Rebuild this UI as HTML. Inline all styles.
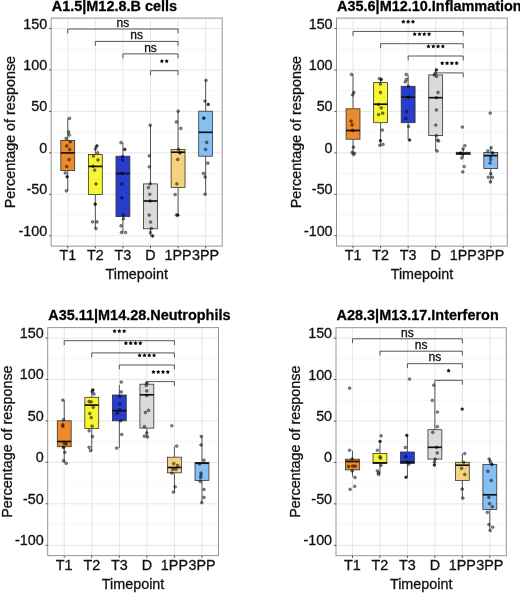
<!DOCTYPE html>
<html><head><meta charset="utf-8"><style>
html,body{margin:0;padding:0;background:#fff;width:520px;height:593px;overflow:hidden;}
svg{display:block;font-family:"Liberation Sans", sans-serif;filter:blur(0.35px);}
text{stroke:#111;stroke-width:0.3px;}
</style></head><body>
<svg width="520" height="593" viewBox="0 0 520 593">
<rect width="520" height="593" fill="#fff"/>
<line x1="51.2" y1="49.22" x2="222.2" y2="49.22" stroke="#EFEFEF" stroke-width="0.5"/>
<line x1="51.2" y1="90.67" x2="222.2" y2="90.67" stroke="#EFEFEF" stroke-width="0.5"/>
<line x1="51.2" y1="132.12" x2="222.2" y2="132.12" stroke="#EFEFEF" stroke-width="0.5"/>
<line x1="51.2" y1="173.57" x2="222.2" y2="173.57" stroke="#EFEFEF" stroke-width="0.5"/>
<line x1="51.2" y1="215.02" x2="222.2" y2="215.02" stroke="#EFEFEF" stroke-width="0.5"/>
<line x1="51.2" y1="28.5" x2="222.2" y2="28.5" stroke="#E3E3E3" stroke-width="0.9"/>
<line x1="51.2" y1="69.95" x2="222.2" y2="69.95" stroke="#E3E3E3" stroke-width="0.9"/>
<line x1="51.2" y1="111.4" x2="222.2" y2="111.4" stroke="#E3E3E3" stroke-width="0.9"/>
<line x1="51.2" y1="152.85" x2="222.2" y2="152.85" stroke="#E3E3E3" stroke-width="0.9"/>
<line x1="51.2" y1="194.3" x2="222.2" y2="194.3" stroke="#E3E3E3" stroke-width="0.9"/>
<line x1="51.2" y1="235.75" x2="222.2" y2="235.75" stroke="#E3E3E3" stroke-width="0.9"/>
<line x1="67.75" y1="18.1" x2="67.75" y2="246.1" stroke="#E3E3E3" stroke-width="0.9"/>
<line x1="95.33" y1="18.1" x2="95.33" y2="246.1" stroke="#E3E3E3" stroke-width="0.9"/>
<line x1="122.91" y1="18.1" x2="122.91" y2="246.1" stroke="#E3E3E3" stroke-width="0.9"/>
<line x1="150.49" y1="18.1" x2="150.49" y2="246.1" stroke="#E3E3E3" stroke-width="0.9"/>
<line x1="178.07" y1="18.1" x2="178.07" y2="246.1" stroke="#E3E3E3" stroke-width="0.9"/>
<line x1="205.65" y1="18.1" x2="205.65" y2="246.1" stroke="#E3E3E3" stroke-width="0.9"/>
<line x1="67.75" y1="118.4" x2="67.75" y2="140.5" stroke="#555555" stroke-width="1"/>
<line x1="67.75" y1="170.4" x2="67.75" y2="191" stroke="#555555" stroke-width="1"/>
<rect x="60.8" y="140.5" width="13.9" height="29.9" fill="#EC8A2C" stroke="#333333" stroke-width="0.8"/>
<line x1="60.8" y1="152.9" x2="74.7" y2="152.9" stroke="#111" stroke-width="1.7"/>
<line x1="95.33" y1="146" x2="95.33" y2="154.5" stroke="#555555" stroke-width="1"/>
<line x1="95.33" y1="194.4" x2="95.33" y2="228.6" stroke="#555555" stroke-width="1"/>
<rect x="88.38" y="154.5" width="13.9" height="39.9" fill="#F8F532" stroke="#333333" stroke-width="0.8"/>
<line x1="88.38" y1="166.4" x2="102.28" y2="166.4" stroke="#111" stroke-width="1.7"/>
<line x1="122.91" y1="142.6" x2="122.91" y2="156.2" stroke="#555555" stroke-width="1"/>
<line x1="122.91" y1="216.6" x2="122.91" y2="232.6" stroke="#555555" stroke-width="1"/>
<rect x="115.96" y="156.2" width="13.9" height="60.4" fill="#283DCC" stroke="#333333" stroke-width="0.8"/>
<line x1="115.96" y1="173.5" x2="129.86" y2="173.5" stroke="#111" stroke-width="1.7"/>
<line x1="150.49" y1="125.2" x2="150.49" y2="183.9" stroke="#555555" stroke-width="1"/>
<line x1="150.49" y1="228.8" x2="150.49" y2="236" stroke="#555555" stroke-width="1"/>
<rect x="143.54" y="183.9" width="13.9" height="44.9" fill="#DADADA" stroke="#333333" stroke-width="0.8"/>
<line x1="143.54" y1="201" x2="157.44" y2="201" stroke="#111" stroke-width="1.7"/>
<line x1="178.07" y1="111.2" x2="178.07" y2="149.4" stroke="#555555" stroke-width="1"/>
<line x1="178.07" y1="187.4" x2="178.07" y2="215.2" stroke="#555555" stroke-width="1"/>
<rect x="171.12" y="149.4" width="13.9" height="38" fill="#F6D27E" stroke="#333333" stroke-width="0.8"/>
<line x1="171.12" y1="152.2" x2="185.02" y2="152.2" stroke="#111" stroke-width="1.7"/>
<line x1="205.65" y1="80.3" x2="205.65" y2="111.2" stroke="#555555" stroke-width="1"/>
<line x1="205.65" y1="156.2" x2="205.65" y2="194.3" stroke="#555555" stroke-width="1"/>
<rect x="198.7" y="111.2" width="13.9" height="45" fill="#88BFF2" stroke="#333333" stroke-width="0.8"/>
<line x1="198.7" y1="132.3" x2="212.6" y2="132.3" stroke="#111" stroke-width="1.7"/>
<circle cx="69.5" cy="118.4" r="1.4" fill="rgba(0,0,0,0.45)" stroke="rgba(0,0,0,0.7)" stroke-width="0.55"/>
<circle cx="68.7" cy="132" r="1.4" fill="rgba(0,0,0,0.45)" stroke="rgba(0,0,0,0.7)" stroke-width="0.55"/>
<circle cx="69.4" cy="135" r="1.4" fill="rgba(0,0,0,0.45)" stroke="rgba(0,0,0,0.7)" stroke-width="0.55"/>
<circle cx="66.1" cy="138.5" r="1.4" fill="rgba(0,0,0,0.45)" stroke="rgba(0,0,0,0.7)" stroke-width="0.55"/>
<circle cx="70.2" cy="141.9" r="1.4" fill="rgba(0,0,0,0.45)" stroke="rgba(0,0,0,0.7)" stroke-width="0.55"/>
<circle cx="66.8" cy="146" r="1.4" fill="rgba(0,0,0,0.45)" stroke="rgba(0,0,0,0.7)" stroke-width="0.55"/>
<circle cx="69.7" cy="149.5" r="1.4" fill="rgba(0,0,0,0.45)" stroke="rgba(0,0,0,0.7)" stroke-width="0.55"/>
<circle cx="69.1" cy="159.6" r="1.4" fill="rgba(0,0,0,0.45)" stroke="rgba(0,0,0,0.7)" stroke-width="0.55"/>
<circle cx="66.7" cy="166.6" r="1.4" fill="rgba(0,0,0,0.45)" stroke="rgba(0,0,0,0.7)" stroke-width="0.55"/>
<circle cx="65.3" cy="173" r="1.4" fill="rgba(0,0,0,0.45)" stroke="rgba(0,0,0,0.7)" stroke-width="0.55"/>
<circle cx="67.1" cy="176.8" r="1.4" fill="rgba(0,0,0,0.8)" stroke="rgba(0,0,0,0.8)" stroke-width="0.5"/>
<circle cx="66.4" cy="190.9" r="1.4" fill="rgba(0,0,0,0.45)" stroke="rgba(0,0,0,0.7)" stroke-width="0.55"/>
<circle cx="96.9" cy="146" r="1.4" fill="rgba(0,0,0,0.8)" stroke="rgba(0,0,0,0.8)" stroke-width="0.5"/>
<circle cx="95.5" cy="148.9" r="1.4" fill="rgba(0,0,0,0.45)" stroke="rgba(0,0,0,0.7)" stroke-width="0.55"/>
<circle cx="97.7" cy="152.8" r="1.4" fill="rgba(0,0,0,0.45)" stroke="rgba(0,0,0,0.7)" stroke-width="0.55"/>
<circle cx="93.5" cy="156.1" r="1.4" fill="rgba(0,0,0,0.45)" stroke="rgba(0,0,0,0.7)" stroke-width="0.55"/>
<circle cx="98" cy="160" r="1.4" fill="rgba(0,0,0,0.45)" stroke="rgba(0,0,0,0.7)" stroke-width="0.55"/>
<circle cx="93" cy="166.3" r="1.4" fill="rgba(0,0,0,0.45)" stroke="rgba(0,0,0,0.7)" stroke-width="0.55"/>
<circle cx="94.7" cy="170.1" r="1.4" fill="rgba(0,0,0,0.45)" stroke="rgba(0,0,0,0.7)" stroke-width="0.55"/>
<circle cx="96" cy="184" r="1.4" fill="rgba(0,0,0,0.45)" stroke="rgba(0,0,0,0.7)" stroke-width="0.55"/>
<circle cx="95.2" cy="204.2" r="1.4" fill="rgba(0,0,0,0.8)" stroke="rgba(0,0,0,0.8)" stroke-width="0.5"/>
<circle cx="92.6" cy="221.9" r="1.4" fill="rgba(0,0,0,0.45)" stroke="rgba(0,0,0,0.7)" stroke-width="0.55"/>
<circle cx="96.9" cy="221.9" r="1.4" fill="rgba(0,0,0,0.45)" stroke="rgba(0,0,0,0.7)" stroke-width="0.55"/>
<circle cx="96" cy="228.6" r="1.4" fill="rgba(0,0,0,0.45)" stroke="rgba(0,0,0,0.7)" stroke-width="0.55"/>
<circle cx="121" cy="142.6" r="1.4" fill="rgba(0,0,0,0.45)" stroke="rgba(0,0,0,0.7)" stroke-width="0.55"/>
<circle cx="124.8" cy="149.4" r="1.4" fill="rgba(0,0,0,0.8)" stroke="rgba(0,0,0,0.8)" stroke-width="0.5"/>
<circle cx="122.6" cy="156.6" r="1.4" fill="rgba(0,0,0,0.45)" stroke="rgba(0,0,0,0.7)" stroke-width="0.55"/>
<circle cx="122.6" cy="160" r="1.4" fill="rgba(0,0,0,0.45)" stroke="rgba(0,0,0,0.7)" stroke-width="0.55"/>
<circle cx="122.1" cy="173.5" r="1.4" fill="rgba(0,0,0,0.45)" stroke="rgba(0,0,0,0.7)" stroke-width="0.55"/>
<circle cx="121.8" cy="184" r="1.4" fill="rgba(0,0,0,0.45)" stroke="rgba(0,0,0,0.7)" stroke-width="0.55"/>
<circle cx="121.8" cy="197.8" r="1.4" fill="rgba(0,0,0,0.45)" stroke="rgba(0,0,0,0.7)" stroke-width="0.55"/>
<circle cx="123.5" cy="215.2" r="1.4" fill="rgba(0,0,0,0.45)" stroke="rgba(0,0,0,0.7)" stroke-width="0.55"/>
<circle cx="123.5" cy="218.8" r="1.4" fill="rgba(0,0,0,0.45)" stroke="rgba(0,0,0,0.7)" stroke-width="0.55"/>
<circle cx="121" cy="225.8" r="1.4" fill="rgba(0,0,0,0.45)" stroke="rgba(0,0,0,0.7)" stroke-width="0.55"/>
<circle cx="121.5" cy="232.5" r="1.4" fill="rgba(0,0,0,0.45)" stroke="rgba(0,0,0,0.7)" stroke-width="0.55"/>
<circle cx="125.6" cy="232.5" r="1.4" fill="rgba(0,0,0,0.45)" stroke="rgba(0,0,0,0.7)" stroke-width="0.55"/>
<circle cx="150.2" cy="125.2" r="1.4" fill="rgba(0,0,0,0.45)" stroke="rgba(0,0,0,0.7)" stroke-width="0.55"/>
<circle cx="149.3" cy="155.9" r="1.4" fill="rgba(0,0,0,0.45)" stroke="rgba(0,0,0,0.7)" stroke-width="0.55"/>
<circle cx="149.3" cy="166.8" r="1.4" fill="rgba(0,0,0,0.45)" stroke="rgba(0,0,0,0.7)" stroke-width="0.55"/>
<circle cx="150.2" cy="183.9" r="1.4" fill="rgba(0,0,0,0.45)" stroke="rgba(0,0,0,0.7)" stroke-width="0.55"/>
<circle cx="148.5" cy="187.6" r="1.4" fill="rgba(0,0,0,0.45)" stroke="rgba(0,0,0,0.7)" stroke-width="0.55"/>
<circle cx="149.8" cy="194.3" r="1.4" fill="rgba(0,0,0,0.45)" stroke="rgba(0,0,0,0.7)" stroke-width="0.55"/>
<circle cx="150.2" cy="201" r="1.4" fill="rgba(0,0,0,0.45)" stroke="rgba(0,0,0,0.7)" stroke-width="0.55"/>
<circle cx="149.2" cy="215.1" r="1.4" fill="rgba(0,0,0,0.45)" stroke="rgba(0,0,0,0.7)" stroke-width="0.55"/>
<circle cx="150.6" cy="222.1" r="1.4" fill="rgba(0,0,0,0.45)" stroke="rgba(0,0,0,0.7)" stroke-width="0.55"/>
<circle cx="151.3" cy="228.4" r="1.4" fill="rgba(0,0,0,0.45)" stroke="rgba(0,0,0,0.7)" stroke-width="0.55"/>
<circle cx="150.4" cy="232.7" r="1.4" fill="rgba(0,0,0,0.45)" stroke="rgba(0,0,0,0.7)" stroke-width="0.55"/>
<circle cx="152.6" cy="236" r="1.4" fill="rgba(0,0,0,0.8)" stroke="rgba(0,0,0,0.8)" stroke-width="0.5"/>
<circle cx="178.2" cy="111.2" r="1.4" fill="rgba(0,0,0,0.45)" stroke="rgba(0,0,0,0.7)" stroke-width="0.55"/>
<circle cx="176.4" cy="122" r="1.4" fill="rgba(0,0,0,0.45)" stroke="rgba(0,0,0,0.7)" stroke-width="0.55"/>
<circle cx="180.8" cy="128.5" r="1.4" fill="rgba(0,0,0,0.45)" stroke="rgba(0,0,0,0.7)" stroke-width="0.55"/>
<circle cx="178.6" cy="149.4" r="1.4" fill="rgba(0,0,0,0.45)" stroke="rgba(0,0,0,0.7)" stroke-width="0.55"/>
<circle cx="179.9" cy="152.9" r="1.4" fill="rgba(0,0,0,0.8)" stroke="rgba(0,0,0,0.8)" stroke-width="0.5"/>
<circle cx="177.7" cy="159.5" r="1.4" fill="rgba(0,0,0,0.45)" stroke="rgba(0,0,0,0.7)" stroke-width="0.55"/>
<circle cx="176.9" cy="183.9" r="1.4" fill="rgba(0,0,0,0.45)" stroke="rgba(0,0,0,0.7)" stroke-width="0.55"/>
<circle cx="175.1" cy="194.6" r="1.4" fill="rgba(0,0,0,0.45)" stroke="rgba(0,0,0,0.7)" stroke-width="0.55"/>
<circle cx="177.8" cy="215.2" r="1.4" fill="rgba(0,0,0,0.8)" stroke="rgba(0,0,0,0.8)" stroke-width="0.5"/>
<circle cx="176.5" cy="215" r="1.4" fill="rgba(0,0,0,0.45)" stroke="rgba(0,0,0,0.7)" stroke-width="0.55"/>
<circle cx="206" cy="80.3" r="1.4" fill="rgba(0,0,0,0.45)" stroke="rgba(0,0,0,0.7)" stroke-width="0.55"/>
<circle cx="204.9" cy="101.1" r="1.4" fill="rgba(0,0,0,0.45)" stroke="rgba(0,0,0,0.7)" stroke-width="0.55"/>
<circle cx="208.2" cy="104.4" r="1.4" fill="rgba(0,0,0,0.8)" stroke="rgba(0,0,0,0.8)" stroke-width="0.5"/>
<circle cx="203.8" cy="118.2" r="1.4" fill="rgba(0,0,0,0.8)" stroke="rgba(0,0,0,0.8)" stroke-width="0.5"/>
<circle cx="206.7" cy="142.4" r="1.4" fill="rgba(0,0,0,0.45)" stroke="rgba(0,0,0,0.7)" stroke-width="0.55"/>
<circle cx="205.6" cy="149.4" r="1.4" fill="rgba(0,0,0,0.45)" stroke="rgba(0,0,0,0.7)" stroke-width="0.55"/>
<circle cx="207.8" cy="163.2" r="1.4" fill="rgba(0,0,0,0.45)" stroke="rgba(0,0,0,0.7)" stroke-width="0.55"/>
<circle cx="203.4" cy="173.5" r="1.4" fill="rgba(0,0,0,0.45)" stroke="rgba(0,0,0,0.7)" stroke-width="0.55"/>
<circle cx="205.1" cy="177" r="1.4" fill="rgba(0,0,0,0.45)" stroke="rgba(0,0,0,0.7)" stroke-width="0.55"/>
<circle cx="205.1" cy="194.3" r="1.4" fill="rgba(0,0,0,0.45)" stroke="rgba(0,0,0,0.7)" stroke-width="0.55"/>
<path d="M67.75,33.4V29H178.07V33.4" fill="none" stroke="#555555" stroke-width="1"/>
<text x="122.91" y="26.7" font-size="12" text-anchor="middle" fill="#111111">ns</text>
<path d="M95.33,45.8V41.4H178.07V45.8" fill="none" stroke="#555555" stroke-width="1"/>
<text x="136.7" y="39.1" font-size="12" text-anchor="middle" fill="#111111">ns</text>
<path d="M122.91,58.3V53.9H178.07V58.3" fill="none" stroke="#555555" stroke-width="1"/>
<text x="150.49" y="51.6" font-size="12" text-anchor="middle" fill="#111111">ns</text>
<path d="M150.49,75.1V70.7H178.07V75.1" fill="none" stroke="#555555" stroke-width="1"/>
<polygon points="161.88,58.9 162.59,60.13 163.97,60.42 163.02,61.47 163.17,62.88 161.88,62.3 160.59,62.88 160.74,61.47 159.79,60.42 161.18,60.13" fill="#000"/>
<polygon points="166.68,58.9 167.39,60.13 168.77,60.42 167.82,61.47 167.97,62.88 166.68,62.3 165.39,62.88 165.54,61.47 164.59,60.42 165.98,60.13" fill="#000"/>
<rect x="51.2" y="18.1" width="171" height="228" fill="none" stroke="#959595" stroke-width="1"/>
<line x1="49" y1="28.5" x2="51.2" y2="28.5" stroke="#555555" stroke-width="1"/>
<text x="47.3" y="28.5" font-size="14.35" text-anchor="end" fill="#111111">150</text>
<line x1="49" y1="69.95" x2="51.2" y2="69.95" stroke="#555555" stroke-width="1"/>
<text x="47.3" y="69.95" font-size="14.35" text-anchor="end" fill="#111111">100</text>
<line x1="49" y1="111.4" x2="51.2" y2="111.4" stroke="#555555" stroke-width="1"/>
<text x="47.3" y="111.4" font-size="14.35" text-anchor="end" fill="#111111">50</text>
<line x1="49" y1="152.85" x2="51.2" y2="152.85" stroke="#555555" stroke-width="1"/>
<text x="47.3" y="152.85" font-size="14.35" text-anchor="end" fill="#111111">0</text>
<line x1="49" y1="194.3" x2="51.2" y2="194.3" stroke="#555555" stroke-width="1"/>
<text x="47.3" y="194.3" font-size="14.35" text-anchor="end" fill="#111111">-50</text>
<line x1="49" y1="235.75" x2="51.2" y2="235.75" stroke="#555555" stroke-width="1"/>
<text x="47.3" y="235.75" font-size="14.35" text-anchor="end" fill="#111111">-100</text>
<line x1="67.75" y1="246.1" x2="67.75" y2="248.3" stroke="#555555" stroke-width="1"/>
<text x="67.75" y="260.1" font-size="14.35" text-anchor="middle" fill="#111111">T1</text>
<line x1="95.33" y1="246.1" x2="95.33" y2="248.3" stroke="#555555" stroke-width="1"/>
<text x="95.33" y="260.1" font-size="14.35" text-anchor="middle" fill="#111111">T2</text>
<line x1="122.91" y1="246.1" x2="122.91" y2="248.3" stroke="#555555" stroke-width="1"/>
<text x="122.91" y="260.1" font-size="14.35" text-anchor="middle" fill="#111111">T3</text>
<line x1="150.49" y1="246.1" x2="150.49" y2="248.3" stroke="#555555" stroke-width="1"/>
<text x="150.49" y="260.1" font-size="14.35" text-anchor="middle" fill="#111111">D</text>
<line x1="178.07" y1="246.1" x2="178.07" y2="248.3" stroke="#555555" stroke-width="1"/>
<text x="178.07" y="260.1" font-size="14.35" text-anchor="middle" fill="#111111">1PP</text>
<line x1="205.65" y1="246.1" x2="205.65" y2="248.3" stroke="#555555" stroke-width="1"/>
<text x="205.65" y="260.1" font-size="14.35" text-anchor="middle" fill="#111111">3PP</text>
<text x="136.7" y="279.3" font-size="14.35" text-anchor="middle" fill="#111111">Timepoint</text>
<text transform="translate(15.2,132.1) rotate(-90)" font-size="14.35" text-anchor="middle" fill="#111111">Percentage of response</text>
<text x="51.8" y="10.7" font-size="14.45" font-weight="bold" fill="#000">A1.5|M12.8.B cells</text>
<line x1="336.5" y1="49.22" x2="507.3" y2="49.22" stroke="#EFEFEF" stroke-width="0.5"/>
<line x1="336.5" y1="90.67" x2="507.3" y2="90.67" stroke="#EFEFEF" stroke-width="0.5"/>
<line x1="336.5" y1="132.12" x2="507.3" y2="132.12" stroke="#EFEFEF" stroke-width="0.5"/>
<line x1="336.5" y1="173.57" x2="507.3" y2="173.57" stroke="#EFEFEF" stroke-width="0.5"/>
<line x1="336.5" y1="215.02" x2="507.3" y2="215.02" stroke="#EFEFEF" stroke-width="0.5"/>
<line x1="336.5" y1="28.5" x2="507.3" y2="28.5" stroke="#E3E3E3" stroke-width="0.9"/>
<line x1="336.5" y1="69.95" x2="507.3" y2="69.95" stroke="#E3E3E3" stroke-width="0.9"/>
<line x1="336.5" y1="111.4" x2="507.3" y2="111.4" stroke="#E3E3E3" stroke-width="0.9"/>
<line x1="336.5" y1="152.85" x2="507.3" y2="152.85" stroke="#E3E3E3" stroke-width="0.9"/>
<line x1="336.5" y1="194.3" x2="507.3" y2="194.3" stroke="#E3E3E3" stroke-width="0.9"/>
<line x1="336.5" y1="235.75" x2="507.3" y2="235.75" stroke="#E3E3E3" stroke-width="0.9"/>
<line x1="353.03" y1="18.1" x2="353.03" y2="246.1" stroke="#E3E3E3" stroke-width="0.9"/>
<line x1="380.58" y1="18.1" x2="380.58" y2="246.1" stroke="#E3E3E3" stroke-width="0.9"/>
<line x1="408.13" y1="18.1" x2="408.13" y2="246.1" stroke="#E3E3E3" stroke-width="0.9"/>
<line x1="435.67" y1="18.1" x2="435.67" y2="246.1" stroke="#E3E3E3" stroke-width="0.9"/>
<line x1="463.22" y1="18.1" x2="463.22" y2="246.1" stroke="#E3E3E3" stroke-width="0.9"/>
<line x1="490.77" y1="18.1" x2="490.77" y2="246.1" stroke="#E3E3E3" stroke-width="0.9"/>
<line x1="353.03" y1="74.5" x2="353.03" y2="108.8" stroke="#555555" stroke-width="1"/>
<line x1="353.03" y1="139.2" x2="353.03" y2="153.7" stroke="#555555" stroke-width="1"/>
<rect x="346.08" y="108.8" width="13.9" height="30.4" fill="#EC8A2C" stroke="#333333" stroke-width="0.8"/>
<line x1="346.08" y1="130.5" x2="359.98" y2="130.5" stroke="#111" stroke-width="1.7"/>
<line x1="380.58" y1="78.6" x2="380.58" y2="82.6" stroke="#555555" stroke-width="1"/>
<line x1="380.58" y1="122.7" x2="380.58" y2="145.3" stroke="#555555" stroke-width="1"/>
<rect x="373.63" y="82.6" width="13.9" height="40.1" fill="#F8F532" stroke="#333333" stroke-width="0.8"/>
<line x1="373.63" y1="104.2" x2="387.53" y2="104.2" stroke="#111" stroke-width="1.7"/>
<line x1="408.13" y1="74.5" x2="408.13" y2="86.3" stroke="#555555" stroke-width="1"/>
<line x1="408.13" y1="122.7" x2="408.13" y2="140.1" stroke="#555555" stroke-width="1"/>
<rect x="401.18" y="86.3" width="13.9" height="36.4" fill="#283DCC" stroke="#333333" stroke-width="0.8"/>
<line x1="401.18" y1="97.1" x2="415.08" y2="97.1" stroke="#111" stroke-width="1.7"/>
<line x1="435.67" y1="69.9" x2="435.67" y2="74.9" stroke="#555555" stroke-width="1"/>
<line x1="435.67" y1="135.6" x2="435.67" y2="151" stroke="#555555" stroke-width="1"/>
<rect x="428.72" y="74.9" width="13.9" height="60.7" fill="#DADADA" stroke="#333333" stroke-width="0.8"/>
<line x1="428.72" y1="97.7" x2="442.62" y2="97.7" stroke="#111" stroke-width="1.7"/>
<line x1="463.22" y1="148.9" x2="463.22" y2="152.3" stroke="#555555" stroke-width="1"/>
<line x1="463.22" y1="154.6" x2="463.22" y2="158" stroke="#555555" stroke-width="1"/>
<rect x="456.27" y="152.3" width="13.9" height="2.3" fill="#F6D27E" stroke="#333333" stroke-width="0.8"/>
<line x1="456.27" y1="153.3" x2="470.17" y2="153.3" stroke="#111" stroke-width="1.7"/>
<line x1="490.77" y1="147.7" x2="490.77" y2="152.5" stroke="#555555" stroke-width="1"/>
<line x1="490.77" y1="168.5" x2="490.77" y2="182" stroke="#555555" stroke-width="1"/>
<rect x="483.82" y="152.5" width="13.9" height="16" fill="#88BFF2" stroke="#333333" stroke-width="0.8"/>
<line x1="483.82" y1="155.6" x2="497.72" y2="155.6" stroke="#111" stroke-width="1.7"/>
<circle cx="351.5" cy="74.5" r="1.4" fill="rgba(0,0,0,0.45)" stroke="rgba(0,0,0,0.7)" stroke-width="0.55"/>
<circle cx="353.9" cy="92.5" r="1.4" fill="rgba(0,0,0,0.45)" stroke="rgba(0,0,0,0.7)" stroke-width="0.55"/>
<circle cx="352.6" cy="94.9" r="1.4" fill="rgba(0,0,0,0.45)" stroke="rgba(0,0,0,0.7)" stroke-width="0.55"/>
<circle cx="351.1" cy="121.2" r="1.4" fill="rgba(0,0,0,0.45)" stroke="rgba(0,0,0,0.7)" stroke-width="0.55"/>
<circle cx="352.1" cy="124.9" r="1.4" fill="rgba(0,0,0,0.45)" stroke="rgba(0,0,0,0.7)" stroke-width="0.55"/>
<circle cx="352.6" cy="130.5" r="1.4" fill="rgba(0,0,0,0.8)" stroke="rgba(0,0,0,0.8)" stroke-width="0.5"/>
<circle cx="353.4" cy="147.2" r="1.4" fill="rgba(0,0,0,0.45)" stroke="rgba(0,0,0,0.7)" stroke-width="0.55"/>
<circle cx="352.1" cy="152.4" r="1.4" fill="rgba(0,0,0,0.45)" stroke="rgba(0,0,0,0.7)" stroke-width="0.55"/>
<circle cx="354.5" cy="153.3" r="1.4" fill="rgba(0,0,0,0.45)" stroke="rgba(0,0,0,0.7)" stroke-width="0.55"/>
<circle cx="353.4" cy="154.6" r="1.4" fill="rgba(0,0,0,0.45)" stroke="rgba(0,0,0,0.7)" stroke-width="0.55"/>
<circle cx="379.3" cy="78.6" r="1.4" fill="rgba(0,0,0,0.45)" stroke="rgba(0,0,0,0.7)" stroke-width="0.55"/>
<circle cx="381.2" cy="79.5" r="1.4" fill="rgba(0,0,0,0.8)" stroke="rgba(0,0,0,0.8)" stroke-width="0.5"/>
<circle cx="380.4" cy="84.1" r="1.4" fill="rgba(0,0,0,0.45)" stroke="rgba(0,0,0,0.7)" stroke-width="0.55"/>
<circle cx="380.4" cy="92.5" r="1.4" fill="rgba(0,0,0,0.45)" stroke="rgba(0,0,0,0.7)" stroke-width="0.55"/>
<circle cx="378.4" cy="104.5" r="1.4" fill="rgba(0,0,0,0.45)" stroke="rgba(0,0,0,0.7)" stroke-width="0.55"/>
<circle cx="381.2" cy="107.9" r="1.4" fill="rgba(0,0,0,0.45)" stroke="rgba(0,0,0,0.7)" stroke-width="0.55"/>
<circle cx="382.7" cy="113.2" r="1.4" fill="rgba(0,0,0,0.45)" stroke="rgba(0,0,0,0.7)" stroke-width="0.55"/>
<circle cx="378.6" cy="114.7" r="1.4" fill="rgba(0,0,0,0.45)" stroke="rgba(0,0,0,0.7)" stroke-width="0.55"/>
<circle cx="382.3" cy="130.1" r="1.4" fill="rgba(0,0,0,0.45)" stroke="rgba(0,0,0,0.7)" stroke-width="0.55"/>
<circle cx="380.4" cy="140.7" r="1.4" fill="rgba(0,0,0,0.8)" stroke="rgba(0,0,0,0.8)" stroke-width="0.5"/>
<circle cx="379.9" cy="145.3" r="1.4" fill="rgba(0,0,0,0.45)" stroke="rgba(0,0,0,0.7)" stroke-width="0.55"/>
<circle cx="383" cy="144.4" r="1.4" fill="rgba(0,0,0,0.45)" stroke="rgba(0,0,0,0.7)" stroke-width="0.55"/>
<circle cx="406.2" cy="74.5" r="1.4" fill="rgba(0,0,0,0.45)" stroke="rgba(0,0,0,0.7)" stroke-width="0.55"/>
<circle cx="406.4" cy="79.5" r="1.4" fill="rgba(0,0,0,0.45)" stroke="rgba(0,0,0,0.7)" stroke-width="0.55"/>
<circle cx="405.3" cy="81.9" r="1.4" fill="rgba(0,0,0,0.45)" stroke="rgba(0,0,0,0.7)" stroke-width="0.55"/>
<circle cx="408.3" cy="86.3" r="1.4" fill="rgba(0,0,0,0.45)" stroke="rgba(0,0,0,0.7)" stroke-width="0.55"/>
<circle cx="408.3" cy="97.1" r="1.4" fill="rgba(0,0,0,0.8)" stroke="rgba(0,0,0,0.8)" stroke-width="0.5"/>
<circle cx="406.8" cy="111.6" r="1.4" fill="rgba(0,0,0,0.45)" stroke="rgba(0,0,0,0.7)" stroke-width="0.55"/>
<circle cx="405.9" cy="118.4" r="1.4" fill="rgba(0,0,0,0.45)" stroke="rgba(0,0,0,0.7)" stroke-width="0.55"/>
<circle cx="408.6" cy="126.4" r="1.4" fill="rgba(0,0,0,0.45)" stroke="rgba(0,0,0,0.7)" stroke-width="0.55"/>
<circle cx="409.6" cy="140.1" r="1.4" fill="rgba(0,0,0,0.8)" stroke="rgba(0,0,0,0.8)" stroke-width="0.5"/>
<circle cx="436.4" cy="69.9" r="1.4" fill="rgba(0,0,0,0.8)" stroke="rgba(0,0,0,0.8)" stroke-width="0.5"/>
<circle cx="435.4" cy="73.2" r="1.4" fill="rgba(0,0,0,0.45)" stroke="rgba(0,0,0,0.7)" stroke-width="0.55"/>
<circle cx="434.3" cy="74.9" r="1.4" fill="rgba(0,0,0,0.45)" stroke="rgba(0,0,0,0.7)" stroke-width="0.55"/>
<circle cx="436.4" cy="76.4" r="1.4" fill="rgba(0,0,0,0.45)" stroke="rgba(0,0,0,0.7)" stroke-width="0.55"/>
<circle cx="438" cy="92.5" r="1.4" fill="rgba(0,0,0,0.45)" stroke="rgba(0,0,0,0.7)" stroke-width="0.55"/>
<circle cx="436.4" cy="97.7" r="1.4" fill="rgba(0,0,0,0.45)" stroke="rgba(0,0,0,0.7)" stroke-width="0.55"/>
<circle cx="436.4" cy="110" r="1.4" fill="rgba(0,0,0,0.45)" stroke="rgba(0,0,0,0.7)" stroke-width="0.55"/>
<circle cx="435.8" cy="125.1" r="1.4" fill="rgba(0,0,0,0.45)" stroke="rgba(0,0,0,0.7)" stroke-width="0.55"/>
<circle cx="436.4" cy="135.7" r="1.4" fill="rgba(0,0,0,0.45)" stroke="rgba(0,0,0,0.7)" stroke-width="0.55"/>
<circle cx="437.5" cy="140" r="1.4" fill="rgba(0,0,0,0.45)" stroke="rgba(0,0,0,0.7)" stroke-width="0.55"/>
<circle cx="438.6" cy="141.1" r="1.4" fill="rgba(0,0,0,0.45)" stroke="rgba(0,0,0,0.7)" stroke-width="0.55"/>
<circle cx="437.1" cy="151" r="1.4" fill="rgba(0,0,0,0.45)" stroke="rgba(0,0,0,0.7)" stroke-width="0.55"/>
<circle cx="462.4" cy="127.1" r="1.4" fill="rgba(0,0,0,0.45)" stroke="rgba(0,0,0,0.7)" stroke-width="0.55"/>
<circle cx="464.8" cy="145.7" r="1.4" fill="rgba(0,0,0,0.45)" stroke="rgba(0,0,0,0.7)" stroke-width="0.55"/>
<circle cx="463" cy="148.9" r="1.4" fill="rgba(0,0,0,0.45)" stroke="rgba(0,0,0,0.7)" stroke-width="0.55"/>
<circle cx="460.6" cy="153.2" r="1.4" fill="rgba(0,0,0,0.8)" stroke="rgba(0,0,0,0.8)" stroke-width="0.5"/>
<circle cx="462.8" cy="154.3" r="1.4" fill="rgba(0,0,0,0.45)" stroke="rgba(0,0,0,0.7)" stroke-width="0.55"/>
<circle cx="461.8" cy="158" r="1.4" fill="rgba(0,0,0,0.45)" stroke="rgba(0,0,0,0.7)" stroke-width="0.55"/>
<circle cx="464.2" cy="166.6" r="1.4" fill="rgba(0,0,0,0.45)" stroke="rgba(0,0,0,0.7)" stroke-width="0.55"/>
<circle cx="462.8" cy="171.9" r="1.4" fill="rgba(0,0,0,0.45)" stroke="rgba(0,0,0,0.7)" stroke-width="0.55"/>
<circle cx="490.2" cy="113.1" r="1.4" fill="rgba(0,0,0,0.45)" stroke="rgba(0,0,0,0.7)" stroke-width="0.55"/>
<circle cx="491.1" cy="147.7" r="1.4" fill="rgba(0,0,0,0.45)" stroke="rgba(0,0,0,0.7)" stroke-width="0.55"/>
<circle cx="487.8" cy="150.9" r="1.4" fill="rgba(0,0,0,0.45)" stroke="rgba(0,0,0,0.7)" stroke-width="0.55"/>
<circle cx="492.5" cy="152.8" r="1.4" fill="rgba(0,0,0,0.8)" stroke="rgba(0,0,0,0.8)" stroke-width="0.5"/>
<circle cx="490.7" cy="156.6" r="1.4" fill="rgba(0,0,0,0.45)" stroke="rgba(0,0,0,0.7)" stroke-width="0.55"/>
<circle cx="490.7" cy="159.6" r="1.4" fill="rgba(0,0,0,0.45)" stroke="rgba(0,0,0,0.7)" stroke-width="0.55"/>
<circle cx="490.1" cy="163.1" r="1.4" fill="rgba(0,0,0,0.45)" stroke="rgba(0,0,0,0.7)" stroke-width="0.55"/>
<circle cx="490.7" cy="173.7" r="1.4" fill="rgba(0,0,0,0.45)" stroke="rgba(0,0,0,0.7)" stroke-width="0.55"/>
<circle cx="488.4" cy="177.3" r="1.4" fill="rgba(0,0,0,0.45)" stroke="rgba(0,0,0,0.7)" stroke-width="0.55"/>
<circle cx="492.3" cy="177.3" r="1.4" fill="rgba(0,0,0,0.45)" stroke="rgba(0,0,0,0.7)" stroke-width="0.55"/>
<circle cx="490.4" cy="182" r="1.4" fill="rgba(0,0,0,0.45)" stroke="rgba(0,0,0,0.7)" stroke-width="0.55"/>
<path d="M353.03,35.8V31.4H463.22V35.8" fill="none" stroke="#555555" stroke-width="1"/>
<polygon points="403.33,19.6 404.03,20.83 405.42,21.12 404.47,22.17 404.62,23.58 403.33,23 402.03,23.58 402.18,22.17 401.23,21.12 402.62,20.83" fill="#000"/>
<polygon points="408.13,19.6 408.83,20.83 410.22,21.12 409.27,22.17 409.42,23.58 408.13,23 406.83,23.58 406.98,22.17 406.03,21.12 407.42,20.83" fill="#000"/>
<polygon points="412.93,19.6 413.63,20.83 415.02,21.12 414.07,22.17 414.22,23.58 412.93,23 411.63,23.58 411.78,22.17 410.83,21.12 412.22,20.83" fill="#000"/>
<path d="M380.58,48.1V43.7H463.22V48.1" fill="none" stroke="#555555" stroke-width="1"/>
<polygon points="414.7,31.9 415.41,33.13 416.79,33.42 415.84,34.47 415.99,35.88 414.7,35.3 413.41,35.88 413.56,34.47 412.61,33.42 413.99,33.13" fill="#000"/>
<polygon points="419.5,31.9 420.21,33.13 421.59,33.42 420.64,34.47 420.79,35.88 419.5,35.3 418.21,35.88 418.36,34.47 417.41,33.42 418.79,33.13" fill="#000"/>
<polygon points="424.3,31.9 425.01,33.13 426.39,33.42 425.44,34.47 425.59,35.88 424.3,35.3 423.01,35.88 423.16,34.47 422.21,33.42 423.59,33.13" fill="#000"/>
<polygon points="429.1,31.9 429.81,33.13 431.19,33.42 430.24,34.47 430.39,35.88 429.1,35.3 427.81,35.88 427.96,34.47 427.01,33.42 428.39,33.13" fill="#000"/>
<path d="M408.13,60.4V56H463.22V60.4" fill="none" stroke="#555555" stroke-width="1"/>
<polygon points="428.47,44.2 429.18,45.43 430.57,45.72 429.62,46.77 429.77,48.18 428.47,47.6 427.18,48.18 427.33,46.77 426.38,45.72 427.77,45.43" fill="#000"/>
<polygon points="433.27,44.2 433.98,45.43 435.37,45.72 434.42,46.77 434.57,48.18 433.27,47.6 431.98,48.18 432.13,46.77 431.18,45.72 432.57,45.43" fill="#000"/>
<polygon points="438.07,44.2 438.78,45.43 440.17,45.72 439.22,46.77 439.37,48.18 438.07,47.6 436.78,48.18 436.93,46.77 435.98,45.72 437.37,45.43" fill="#000"/>
<polygon points="442.87,44.2 443.58,45.43 444.97,45.72 444.02,46.77 444.17,48.18 442.87,47.6 441.58,48.18 441.73,46.77 440.78,45.72 442.17,45.43" fill="#000"/>
<path d="M435.67,77.3V72.9H463.22V77.3" fill="none" stroke="#555555" stroke-width="1"/>
<polygon points="442.25,61.1 442.95,62.33 444.34,62.62 443.39,63.67 443.54,65.08 442.25,64.5 440.96,65.08 441.11,63.67 440.16,62.62 441.54,62.33" fill="#000"/>
<polygon points="447.05,61.1 447.75,62.33 449.14,62.62 448.19,63.67 448.34,65.08 447.05,64.5 445.76,65.08 445.91,63.67 444.96,62.62 446.34,62.33" fill="#000"/>
<polygon points="451.85,61.1 452.55,62.33 453.94,62.62 452.99,63.67 453.14,65.08 451.85,64.5 450.56,65.08 450.71,63.67 449.76,62.62 451.14,62.33" fill="#000"/>
<polygon points="456.65,61.1 457.35,62.33 458.74,62.62 457.79,63.67 457.94,65.08 456.65,64.5 455.36,65.08 455.51,63.67 454.56,62.62 455.94,62.33" fill="#000"/>
<rect x="336.5" y="18.1" width="170.8" height="228" fill="none" stroke="#959595" stroke-width="1"/>
<line x1="334.3" y1="28.5" x2="336.5" y2="28.5" stroke="#555555" stroke-width="1"/>
<text x="332.6" y="28.5" font-size="14.35" text-anchor="end" fill="#111111">150</text>
<line x1="334.3" y1="69.95" x2="336.5" y2="69.95" stroke="#555555" stroke-width="1"/>
<text x="332.6" y="69.95" font-size="14.35" text-anchor="end" fill="#111111">100</text>
<line x1="334.3" y1="111.4" x2="336.5" y2="111.4" stroke="#555555" stroke-width="1"/>
<text x="332.6" y="111.4" font-size="14.35" text-anchor="end" fill="#111111">50</text>
<line x1="334.3" y1="152.85" x2="336.5" y2="152.85" stroke="#555555" stroke-width="1"/>
<text x="332.6" y="152.85" font-size="14.35" text-anchor="end" fill="#111111">0</text>
<line x1="334.3" y1="194.3" x2="336.5" y2="194.3" stroke="#555555" stroke-width="1"/>
<text x="332.6" y="194.3" font-size="14.35" text-anchor="end" fill="#111111">-50</text>
<line x1="334.3" y1="235.75" x2="336.5" y2="235.75" stroke="#555555" stroke-width="1"/>
<text x="332.6" y="235.75" font-size="14.35" text-anchor="end" fill="#111111">-100</text>
<line x1="353.03" y1="246.1" x2="353.03" y2="248.3" stroke="#555555" stroke-width="1"/>
<text x="353.03" y="260.1" font-size="14.35" text-anchor="middle" fill="#111111">T1</text>
<line x1="380.58" y1="246.1" x2="380.58" y2="248.3" stroke="#555555" stroke-width="1"/>
<text x="380.58" y="260.1" font-size="14.35" text-anchor="middle" fill="#111111">T2</text>
<line x1="408.13" y1="246.1" x2="408.13" y2="248.3" stroke="#555555" stroke-width="1"/>
<text x="408.13" y="260.1" font-size="14.35" text-anchor="middle" fill="#111111">T3</text>
<line x1="435.67" y1="246.1" x2="435.67" y2="248.3" stroke="#555555" stroke-width="1"/>
<text x="435.67" y="260.1" font-size="14.35" text-anchor="middle" fill="#111111">D</text>
<line x1="463.22" y1="246.1" x2="463.22" y2="248.3" stroke="#555555" stroke-width="1"/>
<text x="463.22" y="260.1" font-size="14.35" text-anchor="middle" fill="#111111">1PP</text>
<line x1="490.77" y1="246.1" x2="490.77" y2="248.3" stroke="#555555" stroke-width="1"/>
<text x="490.77" y="260.1" font-size="14.35" text-anchor="middle" fill="#111111">3PP</text>
<text x="421.9" y="279.3" font-size="14.35" text-anchor="middle" fill="#111111">Timepoint</text>
<text transform="translate(300.5,132.1) rotate(-90)" font-size="14.35" text-anchor="middle" fill="#111111">Percentage of response</text>
<text x="337.1" y="10.7" font-size="14.45" font-weight="bold" fill="#000">A35.6|M12.10.Inflammation</text>
<line x1="47.7" y1="358.73" x2="218.5" y2="358.73" stroke="#EFEFEF" stroke-width="0.5"/>
<line x1="47.7" y1="400.18" x2="218.5" y2="400.18" stroke="#EFEFEF" stroke-width="0.5"/>
<line x1="47.7" y1="441.62" x2="218.5" y2="441.62" stroke="#EFEFEF" stroke-width="0.5"/>
<line x1="47.7" y1="483.07" x2="218.5" y2="483.07" stroke="#EFEFEF" stroke-width="0.5"/>
<line x1="47.7" y1="524.52" x2="218.5" y2="524.52" stroke="#EFEFEF" stroke-width="0.5"/>
<line x1="47.7" y1="338" x2="218.5" y2="338" stroke="#E3E3E3" stroke-width="0.9"/>
<line x1="47.7" y1="379.45" x2="218.5" y2="379.45" stroke="#E3E3E3" stroke-width="0.9"/>
<line x1="47.7" y1="420.9" x2="218.5" y2="420.9" stroke="#E3E3E3" stroke-width="0.9"/>
<line x1="47.7" y1="462.35" x2="218.5" y2="462.35" stroke="#E3E3E3" stroke-width="0.9"/>
<line x1="47.7" y1="503.8" x2="218.5" y2="503.8" stroke="#E3E3E3" stroke-width="0.9"/>
<line x1="47.7" y1="545.25" x2="218.5" y2="545.25" stroke="#E3E3E3" stroke-width="0.9"/>
<line x1="64.23" y1="327.6" x2="64.23" y2="555.6" stroke="#E3E3E3" stroke-width="0.9"/>
<line x1="91.78" y1="327.6" x2="91.78" y2="555.6" stroke="#E3E3E3" stroke-width="0.9"/>
<line x1="119.33" y1="327.6" x2="119.33" y2="555.6" stroke="#E3E3E3" stroke-width="0.9"/>
<line x1="146.87" y1="327.6" x2="146.87" y2="555.6" stroke="#E3E3E3" stroke-width="0.9"/>
<line x1="174.42" y1="327.6" x2="174.42" y2="555.6" stroke="#E3E3E3" stroke-width="0.9"/>
<line x1="201.97" y1="327.6" x2="201.97" y2="555.6" stroke="#E3E3E3" stroke-width="0.9"/>
<line x1="64.23" y1="400.1" x2="64.23" y2="420.8" stroke="#555555" stroke-width="1"/>
<line x1="64.23" y1="446.7" x2="64.23" y2="462.9" stroke="#555555" stroke-width="1"/>
<rect x="57.28" y="420.8" width="13.9" height="25.9" fill="#EC8A2C" stroke="#333333" stroke-width="0.8"/>
<line x1="57.28" y1="441.5" x2="71.18" y2="441.5" stroke="#111" stroke-width="1.7"/>
<line x1="91.78" y1="389.7" x2="91.78" y2="397.3" stroke="#555555" stroke-width="1"/>
<line x1="91.78" y1="428.5" x2="91.78" y2="451" stroke="#555555" stroke-width="1"/>
<rect x="84.83" y="397.3" width="13.9" height="31.2" fill="#F8F532" stroke="#333333" stroke-width="0.8"/>
<line x1="84.83" y1="405.1" x2="98.73" y2="405.1" stroke="#111" stroke-width="1.7"/>
<line x1="119.33" y1="384.8" x2="119.33" y2="395" stroke="#555555" stroke-width="1"/>
<line x1="119.33" y1="420.8" x2="119.33" y2="448.1" stroke="#555555" stroke-width="1"/>
<rect x="112.38" y="395" width="13.9" height="25.8" fill="#283DCC" stroke="#333333" stroke-width="0.8"/>
<line x1="112.38" y1="410.7" x2="126.28" y2="410.7" stroke="#111" stroke-width="1.7"/>
<line x1="146.87" y1="382.7" x2="146.87" y2="384.2" stroke="#555555" stroke-width="1"/>
<line x1="146.87" y1="428.1" x2="146.87" y2="437" stroke="#555555" stroke-width="1"/>
<rect x="139.92" y="384.2" width="13.9" height="43.9" fill="#DADADA" stroke="#333333" stroke-width="0.8"/>
<line x1="139.92" y1="394.8" x2="153.82" y2="394.8" stroke="#111" stroke-width="1.7"/>
<line x1="174.42" y1="446.5" x2="174.42" y2="457.2" stroke="#555555" stroke-width="1"/>
<line x1="174.42" y1="472.8" x2="174.42" y2="492.1" stroke="#555555" stroke-width="1"/>
<rect x="167.47" y="457.2" width="13.9" height="15.6" fill="#F6D27E" stroke="#333333" stroke-width="0.8"/>
<line x1="167.47" y1="467.5" x2="181.37" y2="467.5" stroke="#111" stroke-width="1.7"/>
<line x1="201.97" y1="436.4" x2="201.97" y2="462.5" stroke="#555555" stroke-width="1"/>
<line x1="201.97" y1="480.4" x2="201.97" y2="502.7" stroke="#555555" stroke-width="1"/>
<rect x="195.02" y="462.5" width="13.9" height="17.9" fill="#88BFF2" stroke="#333333" stroke-width="0.8"/>
<line x1="195.02" y1="463.2" x2="208.92" y2="463.2" stroke="#111" stroke-width="1.7"/>
<circle cx="62.8" cy="400.1" r="1.4" fill="rgba(0,0,0,0.45)" stroke="rgba(0,0,0,0.7)" stroke-width="0.55"/>
<circle cx="63.5" cy="419.7" r="1.4" fill="rgba(0,0,0,0.45)" stroke="rgba(0,0,0,0.7)" stroke-width="0.55"/>
<circle cx="62.8" cy="424.8" r="1.4" fill="rgba(0,0,0,0.45)" stroke="rgba(0,0,0,0.7)" stroke-width="0.55"/>
<circle cx="62.8" cy="426.4" r="1.4" fill="rgba(0,0,0,0.45)" stroke="rgba(0,0,0,0.7)" stroke-width="0.55"/>
<circle cx="64.2" cy="443.3" r="1.4" fill="rgba(0,0,0,0.45)" stroke="rgba(0,0,0,0.7)" stroke-width="0.55"/>
<circle cx="66.2" cy="444" r="1.4" fill="rgba(0,0,0,0.45)" stroke="rgba(0,0,0,0.7)" stroke-width="0.55"/>
<circle cx="63.5" cy="447.4" r="1.4" fill="rgba(0,0,0,0.8)" stroke="rgba(0,0,0,0.8)" stroke-width="0.5"/>
<circle cx="64.8" cy="452.3" r="1.4" fill="rgba(0,0,0,0.45)" stroke="rgba(0,0,0,0.7)" stroke-width="0.55"/>
<circle cx="63.5" cy="460.8" r="1.4" fill="rgba(0,0,0,0.45)" stroke="rgba(0,0,0,0.7)" stroke-width="0.55"/>
<circle cx="66.2" cy="463.3" r="1.4" fill="rgba(0,0,0,0.45)" stroke="rgba(0,0,0,0.7)" stroke-width="0.55"/>
<circle cx="92.9" cy="390" r="1.4" fill="rgba(0,0,0,0.8)" stroke="rgba(0,0,0,0.8)" stroke-width="0.5"/>
<circle cx="94" cy="394" r="1.4" fill="rgba(0,0,0,0.45)" stroke="rgba(0,0,0,0.7)" stroke-width="0.55"/>
<circle cx="92.1" cy="391.7" r="1.4" fill="rgba(0,0,0,0.45)" stroke="rgba(0,0,0,0.7)" stroke-width="0.55"/>
<circle cx="89.1" cy="401.5" r="1.4" fill="rgba(0,0,0,0.45)" stroke="rgba(0,0,0,0.7)" stroke-width="0.55"/>
<circle cx="91.2" cy="401.9" r="1.4" fill="rgba(0,0,0,0.45)" stroke="rgba(0,0,0,0.7)" stroke-width="0.55"/>
<circle cx="93.2" cy="407.3" r="1.4" fill="rgba(0,0,0,0.45)" stroke="rgba(0,0,0,0.7)" stroke-width="0.55"/>
<circle cx="89.8" cy="413.6" r="1.4" fill="rgba(0,0,0,0.45)" stroke="rgba(0,0,0,0.7)" stroke-width="0.55"/>
<circle cx="91.2" cy="417.7" r="1.4" fill="rgba(0,0,0,0.45)" stroke="rgba(0,0,0,0.7)" stroke-width="0.55"/>
<circle cx="92.1" cy="426.2" r="1.4" fill="rgba(0,0,0,0.45)" stroke="rgba(0,0,0,0.7)" stroke-width="0.55"/>
<circle cx="89.1" cy="430.8" r="1.4" fill="rgba(0,0,0,0.45)" stroke="rgba(0,0,0,0.7)" stroke-width="0.55"/>
<circle cx="92.5" cy="436.6" r="1.4" fill="rgba(0,0,0,0.45)" stroke="rgba(0,0,0,0.7)" stroke-width="0.55"/>
<circle cx="89.1" cy="447.4" r="1.4" fill="rgba(0,0,0,0.45)" stroke="rgba(0,0,0,0.7)" stroke-width="0.55"/>
<circle cx="90.5" cy="450.7" r="1.4" fill="rgba(0,0,0,0.45)" stroke="rgba(0,0,0,0.7)" stroke-width="0.55"/>
<circle cx="121.3" cy="382.1" r="1.4" fill="rgba(0,0,0,0.45)" stroke="rgba(0,0,0,0.7)" stroke-width="0.55"/>
<circle cx="121.3" cy="392" r="1.4" fill="rgba(0,0,0,0.45)" stroke="rgba(0,0,0,0.7)" stroke-width="0.55"/>
<circle cx="119.8" cy="396.6" r="1.4" fill="rgba(0,0,0,0.45)" stroke="rgba(0,0,0,0.7)" stroke-width="0.55"/>
<circle cx="119.8" cy="403.7" r="1.4" fill="rgba(0,0,0,0.45)" stroke="rgba(0,0,0,0.7)" stroke-width="0.55"/>
<circle cx="119.8" cy="409.8" r="1.4" fill="rgba(0,0,0,0.45)" stroke="rgba(0,0,0,0.7)" stroke-width="0.55"/>
<circle cx="117.2" cy="413.2" r="1.4" fill="rgba(0,0,0,0.45)" stroke="rgba(0,0,0,0.7)" stroke-width="0.55"/>
<circle cx="120.7" cy="420.8" r="1.4" fill="rgba(0,0,0,0.45)" stroke="rgba(0,0,0,0.7)" stroke-width="0.55"/>
<circle cx="121.7" cy="434.5" r="1.4" fill="rgba(0,0,0,0.45)" stroke="rgba(0,0,0,0.7)" stroke-width="0.55"/>
<circle cx="116.7" cy="448.1" r="1.4" fill="rgba(0,0,0,0.45)" stroke="rgba(0,0,0,0.7)" stroke-width="0.55"/>
<circle cx="146.8" cy="383" r="1.4" fill="rgba(0,0,0,0.8)" stroke="rgba(0,0,0,0.8)" stroke-width="0.5"/>
<circle cx="146.2" cy="385.4" r="1.4" fill="rgba(0,0,0,0.45)" stroke="rgba(0,0,0,0.7)" stroke-width="0.55"/>
<circle cx="146.8" cy="390.9" r="1.4" fill="rgba(0,0,0,0.45)" stroke="rgba(0,0,0,0.7)" stroke-width="0.55"/>
<circle cx="146.8" cy="395.7" r="1.4" fill="rgba(0,0,0,0.45)" stroke="rgba(0,0,0,0.7)" stroke-width="0.55"/>
<circle cx="145.4" cy="412.5" r="1.4" fill="rgba(0,0,0,0.45)" stroke="rgba(0,0,0,0.7)" stroke-width="0.55"/>
<circle cx="148.6" cy="410.4" r="1.4" fill="rgba(0,0,0,0.45)" stroke="rgba(0,0,0,0.7)" stroke-width="0.55"/>
<circle cx="144.4" cy="426.7" r="1.4" fill="rgba(0,0,0,0.45)" stroke="rgba(0,0,0,0.7)" stroke-width="0.55"/>
<circle cx="146.8" cy="432.9" r="1.4" fill="rgba(0,0,0,0.45)" stroke="rgba(0,0,0,0.7)" stroke-width="0.55"/>
<circle cx="144.4" cy="436.2" r="1.4" fill="rgba(0,0,0,0.45)" stroke="rgba(0,0,0,0.7)" stroke-width="0.55"/>
<circle cx="147.4" cy="437" r="1.4" fill="rgba(0,0,0,0.45)" stroke="rgba(0,0,0,0.7)" stroke-width="0.55"/>
<circle cx="171.8" cy="425.8" r="1.4" fill="rgba(0,0,0,0.45)" stroke="rgba(0,0,0,0.7)" stroke-width="0.55"/>
<circle cx="176.7" cy="446.1" r="1.4" fill="rgba(0,0,0,0.45)" stroke="rgba(0,0,0,0.7)" stroke-width="0.55"/>
<circle cx="173.7" cy="463.6" r="1.4" fill="rgba(0,0,0,0.45)" stroke="rgba(0,0,0,0.7)" stroke-width="0.55"/>
<circle cx="177.5" cy="465.5" r="1.4" fill="rgba(0,0,0,0.45)" stroke="rgba(0,0,0,0.7)" stroke-width="0.55"/>
<circle cx="172.9" cy="469.3" r="1.4" fill="rgba(0,0,0,0.45)" stroke="rgba(0,0,0,0.7)" stroke-width="0.55"/>
<circle cx="175.9" cy="469.3" r="1.4" fill="rgba(0,0,0,0.45)" stroke="rgba(0,0,0,0.7)" stroke-width="0.55"/>
<circle cx="171.8" cy="473.1" r="1.4" fill="rgba(0,0,0,0.45)" stroke="rgba(0,0,0,0.7)" stroke-width="0.55"/>
<circle cx="175.2" cy="486.8" r="1.4" fill="rgba(0,0,0,0.45)" stroke="rgba(0,0,0,0.7)" stroke-width="0.55"/>
<circle cx="173.4" cy="492.1" r="1.4" fill="rgba(0,0,0,0.45)" stroke="rgba(0,0,0,0.7)" stroke-width="0.55"/>
<circle cx="201.3" cy="436.4" r="1.4" fill="rgba(0,0,0,0.45)" stroke="rgba(0,0,0,0.7)" stroke-width="0.55"/>
<circle cx="201" cy="445" r="1.4" fill="rgba(0,0,0,0.45)" stroke="rgba(0,0,0,0.7)" stroke-width="0.55"/>
<circle cx="204" cy="460.2" r="1.4" fill="rgba(0,0,0,0.45)" stroke="rgba(0,0,0,0.7)" stroke-width="0.55"/>
<circle cx="199.5" cy="464" r="1.4" fill="rgba(0,0,0,0.45)" stroke="rgba(0,0,0,0.7)" stroke-width="0.55"/>
<circle cx="201" cy="473.1" r="1.4" fill="rgba(0,0,0,0.45)" stroke="rgba(0,0,0,0.7)" stroke-width="0.55"/>
<circle cx="201" cy="475.4" r="1.4" fill="rgba(0,0,0,0.45)" stroke="rgba(0,0,0,0.7)" stroke-width="0.55"/>
<circle cx="200.7" cy="477.7" r="1.4" fill="rgba(0,0,0,0.45)" stroke="rgba(0,0,0,0.7)" stroke-width="0.55"/>
<circle cx="200.2" cy="481.5" r="1.4" fill="rgba(0,0,0,0.45)" stroke="rgba(0,0,0,0.7)" stroke-width="0.55"/>
<circle cx="204" cy="489.5" r="1.4" fill="rgba(0,0,0,0.45)" stroke="rgba(0,0,0,0.7)" stroke-width="0.55"/>
<circle cx="204" cy="497.4" r="1.4" fill="rgba(0,0,0,0.45)" stroke="rgba(0,0,0,0.7)" stroke-width="0.55"/>
<circle cx="201.7" cy="502.7" r="1.4" fill="rgba(0,0,0,0.45)" stroke="rgba(0,0,0,0.7)" stroke-width="0.55"/>
<path d="M64.23,345.1V340.7H174.42V345.1" fill="none" stroke="#555555" stroke-width="1"/>
<polygon points="114.53,328.9 115.23,330.13 116.62,330.42 115.67,331.47 115.82,332.88 114.53,332.3 113.23,332.88 113.38,331.47 112.43,330.42 113.82,330.13" fill="#000"/>
<polygon points="119.33,328.9 120.03,330.13 121.42,330.42 120.47,331.47 120.62,332.88 119.33,332.3 118.03,332.88 118.18,331.47 117.23,330.42 118.62,330.13" fill="#000"/>
<polygon points="124.13,328.9 124.83,330.13 126.22,330.42 125.27,331.47 125.42,332.88 124.13,332.3 122.83,332.88 122.98,331.47 122.03,330.42 123.42,330.13" fill="#000"/>
<path d="M91.78,357.3V352.9H174.42V357.3" fill="none" stroke="#555555" stroke-width="1"/>
<polygon points="125.9,341.1 126.61,342.33 127.99,342.62 127.04,343.67 127.19,345.08 125.9,344.5 124.61,345.08 124.76,343.67 123.81,342.62 125.19,342.33" fill="#000"/>
<polygon points="130.7,341.1 131.41,342.33 132.79,342.62 131.84,343.67 131.99,345.08 130.7,344.5 129.41,345.08 129.56,343.67 128.61,342.62 129.99,342.33" fill="#000"/>
<polygon points="135.5,341.1 136.21,342.33 137.59,342.62 136.64,343.67 136.79,345.08 135.5,344.5 134.21,345.08 134.36,343.67 133.41,342.62 134.79,342.33" fill="#000"/>
<polygon points="140.3,341.1 141.01,342.33 142.39,342.62 141.44,343.67 141.59,345.08 140.3,344.5 139.01,345.08 139.16,343.67 138.21,342.62 139.59,342.33" fill="#000"/>
<path d="M119.33,369.4V365H174.42V369.4" fill="none" stroke="#555555" stroke-width="1"/>
<polygon points="139.67,353.2 140.38,354.43 141.77,354.72 140.82,355.77 140.97,357.18 139.67,356.6 138.38,357.18 138.53,355.77 137.58,354.72 138.97,354.43" fill="#000"/>
<polygon points="144.47,353.2 145.18,354.43 146.57,354.72 145.62,355.77 145.77,357.18 144.47,356.6 143.18,357.18 143.33,355.77 142.38,354.72 143.77,354.43" fill="#000"/>
<polygon points="149.27,353.2 149.98,354.43 151.37,354.72 150.42,355.77 150.57,357.18 149.27,356.6 147.98,357.18 148.13,355.77 147.18,354.72 148.57,354.43" fill="#000"/>
<polygon points="154.07,353.2 154.78,354.43 156.17,354.72 155.22,355.77 155.37,357.18 154.07,356.6 152.78,357.18 152.93,355.77 151.98,354.72 153.37,354.43" fill="#000"/>
<path d="M146.87,386V381.6H174.42V386" fill="none" stroke="#555555" stroke-width="1"/>
<polygon points="153.45,369.8 154.15,371.03 155.54,371.32 154.59,372.37 154.74,373.78 153.45,373.2 152.16,373.78 152.31,372.37 151.36,371.32 152.74,371.03" fill="#000"/>
<polygon points="158.25,369.8 158.95,371.03 160.34,371.32 159.39,372.37 159.54,373.78 158.25,373.2 156.96,373.78 157.11,372.37 156.16,371.32 157.54,371.03" fill="#000"/>
<polygon points="163.05,369.8 163.75,371.03 165.14,371.32 164.19,372.37 164.34,373.78 163.05,373.2 161.76,373.78 161.91,372.37 160.96,371.32 162.34,371.03" fill="#000"/>
<polygon points="167.85,369.8 168.55,371.03 169.94,371.32 168.99,372.37 169.14,373.78 167.85,373.2 166.56,373.78 166.71,372.37 165.76,371.32 167.14,371.03" fill="#000"/>
<rect x="47.7" y="327.6" width="170.8" height="228" fill="none" stroke="#959595" stroke-width="1"/>
<line x1="45.5" y1="338" x2="47.7" y2="338" stroke="#555555" stroke-width="1"/>
<text x="43.8" y="338" font-size="14.35" text-anchor="end" fill="#111111">150</text>
<line x1="45.5" y1="379.45" x2="47.7" y2="379.45" stroke="#555555" stroke-width="1"/>
<text x="43.8" y="379.45" font-size="14.35" text-anchor="end" fill="#111111">100</text>
<line x1="45.5" y1="420.9" x2="47.7" y2="420.9" stroke="#555555" stroke-width="1"/>
<text x="43.8" y="420.9" font-size="14.35" text-anchor="end" fill="#111111">50</text>
<line x1="45.5" y1="462.35" x2="47.7" y2="462.35" stroke="#555555" stroke-width="1"/>
<text x="43.8" y="462.35" font-size="14.35" text-anchor="end" fill="#111111">0</text>
<line x1="45.5" y1="503.8" x2="47.7" y2="503.8" stroke="#555555" stroke-width="1"/>
<text x="43.8" y="503.8" font-size="14.35" text-anchor="end" fill="#111111">-50</text>
<line x1="45.5" y1="545.25" x2="47.7" y2="545.25" stroke="#555555" stroke-width="1"/>
<text x="43.8" y="545.25" font-size="14.35" text-anchor="end" fill="#111111">-100</text>
<line x1="64.23" y1="555.6" x2="64.23" y2="557.8" stroke="#555555" stroke-width="1"/>
<text x="64.23" y="569.6" font-size="14.35" text-anchor="middle" fill="#111111">T1</text>
<line x1="91.78" y1="555.6" x2="91.78" y2="557.8" stroke="#555555" stroke-width="1"/>
<text x="91.78" y="569.6" font-size="14.35" text-anchor="middle" fill="#111111">T2</text>
<line x1="119.33" y1="555.6" x2="119.33" y2="557.8" stroke="#555555" stroke-width="1"/>
<text x="119.33" y="569.6" font-size="14.35" text-anchor="middle" fill="#111111">T3</text>
<line x1="146.87" y1="555.6" x2="146.87" y2="557.8" stroke="#555555" stroke-width="1"/>
<text x="146.87" y="569.6" font-size="14.35" text-anchor="middle" fill="#111111">D</text>
<line x1="174.42" y1="555.6" x2="174.42" y2="557.8" stroke="#555555" stroke-width="1"/>
<text x="174.42" y="569.6" font-size="14.35" text-anchor="middle" fill="#111111">1PP</text>
<line x1="201.97" y1="555.6" x2="201.97" y2="557.8" stroke="#555555" stroke-width="1"/>
<text x="201.97" y="569.6" font-size="14.35" text-anchor="middle" fill="#111111">3PP</text>
<text x="133.1" y="588.8" font-size="14.35" text-anchor="middle" fill="#111111">Timepoint</text>
<text transform="translate(11.7,441.6) rotate(-90)" font-size="14.35" text-anchor="middle" fill="#111111">Percentage of response</text>
<text x="48.3" y="320.2" font-size="14.45" font-weight="bold" fill="#000">A35.11|M14.28.Neutrophils</text>
<line x1="336" y1="358.82" x2="506.3" y2="358.82" stroke="#EFEFEF" stroke-width="0.5"/>
<line x1="336" y1="400.27" x2="506.3" y2="400.27" stroke="#EFEFEF" stroke-width="0.5"/>
<line x1="336" y1="441.72" x2="506.3" y2="441.72" stroke="#EFEFEF" stroke-width="0.5"/>
<line x1="336" y1="483.17" x2="506.3" y2="483.17" stroke="#EFEFEF" stroke-width="0.5"/>
<line x1="336" y1="524.62" x2="506.3" y2="524.62" stroke="#EFEFEF" stroke-width="0.5"/>
<line x1="336" y1="338.1" x2="506.3" y2="338.1" stroke="#E3E3E3" stroke-width="0.9"/>
<line x1="336" y1="379.55" x2="506.3" y2="379.55" stroke="#E3E3E3" stroke-width="0.9"/>
<line x1="336" y1="421" x2="506.3" y2="421" stroke="#E3E3E3" stroke-width="0.9"/>
<line x1="336" y1="462.45" x2="506.3" y2="462.45" stroke="#E3E3E3" stroke-width="0.9"/>
<line x1="336" y1="503.9" x2="506.3" y2="503.9" stroke="#E3E3E3" stroke-width="0.9"/>
<line x1="336" y1="545.35" x2="506.3" y2="545.35" stroke="#E3E3E3" stroke-width="0.9"/>
<line x1="352.48" y1="327.7" x2="352.48" y2="555.7" stroke="#E3E3E3" stroke-width="0.9"/>
<line x1="379.95" y1="327.7" x2="379.95" y2="555.7" stroke="#E3E3E3" stroke-width="0.9"/>
<line x1="407.42" y1="327.7" x2="407.42" y2="555.7" stroke="#E3E3E3" stroke-width="0.9"/>
<line x1="434.88" y1="327.7" x2="434.88" y2="555.7" stroke="#E3E3E3" stroke-width="0.9"/>
<line x1="462.35" y1="327.7" x2="462.35" y2="555.7" stroke="#E3E3E3" stroke-width="0.9"/>
<line x1="489.82" y1="327.7" x2="489.82" y2="555.7" stroke="#E3E3E3" stroke-width="0.9"/>
<line x1="352.48" y1="450.6" x2="352.48" y2="459.2" stroke="#555555" stroke-width="1"/>
<line x1="352.48" y1="469.9" x2="352.48" y2="476.9" stroke="#555555" stroke-width="1"/>
<rect x="345.53" y="459.2" width="13.9" height="10.7" fill="#EC8A2C" stroke="#333333" stroke-width="0.8"/>
<line x1="345.53" y1="461.5" x2="359.43" y2="461.5" stroke="#111" stroke-width="1.7"/>
<line x1="379.95" y1="441.3" x2="379.95" y2="453.4" stroke="#555555" stroke-width="1"/>
<line x1="379.95" y1="463.5" x2="379.95" y2="474.4" stroke="#555555" stroke-width="1"/>
<rect x="373" y="453.4" width="13.9" height="10.1" fill="#F8F532" stroke="#333333" stroke-width="0.8"/>
<line x1="373" y1="462.8" x2="386.9" y2="462.8" stroke="#111" stroke-width="1.7"/>
<line x1="407.42" y1="435.4" x2="407.42" y2="452" stroke="#555555" stroke-width="1"/>
<line x1="407.42" y1="463.5" x2="407.42" y2="477.3" stroke="#555555" stroke-width="1"/>
<rect x="400.47" y="452" width="13.9" height="11.5" fill="#283DCC" stroke="#333333" stroke-width="0.8"/>
<line x1="400.47" y1="462.1" x2="414.37" y2="462.1" stroke="#111" stroke-width="1.7"/>
<line x1="434.88" y1="385.2" x2="434.88" y2="429.7" stroke="#555555" stroke-width="1"/>
<line x1="434.88" y1="459.1" x2="434.88" y2="465.1" stroke="#555555" stroke-width="1"/>
<rect x="427.93" y="429.7" width="13.9" height="29.4" fill="#DADADA" stroke="#333333" stroke-width="0.8"/>
<line x1="427.93" y1="447.3" x2="441.83" y2="447.3" stroke="#111" stroke-width="1.7"/>
<line x1="462.35" y1="453.6" x2="462.35" y2="462.3" stroke="#555555" stroke-width="1"/>
<line x1="462.35" y1="480.4" x2="462.35" y2="498.2" stroke="#555555" stroke-width="1"/>
<rect x="455.4" y="462.3" width="13.9" height="18.1" fill="#F6D27E" stroke="#333333" stroke-width="0.8"/>
<line x1="455.4" y1="465.2" x2="469.3" y2="465.2" stroke="#111" stroke-width="1.7"/>
<line x1="489.82" y1="458.7" x2="489.82" y2="464.4" stroke="#555555" stroke-width="1"/>
<line x1="489.82" y1="509.5" x2="489.82" y2="530.6" stroke="#555555" stroke-width="1"/>
<rect x="482.87" y="464.4" width="13.9" height="45.1" fill="#88BFF2" stroke="#333333" stroke-width="0.8"/>
<line x1="482.87" y1="494.8" x2="496.77" y2="494.8" stroke="#111" stroke-width="1.7"/>
<circle cx="349.6" cy="388.2" r="1.4" fill="rgba(0,0,0,0.45)" stroke="rgba(0,0,0,0.7)" stroke-width="0.55"/>
<circle cx="349.6" cy="450.3" r="1.4" fill="rgba(0,0,0,0.45)" stroke="rgba(0,0,0,0.7)" stroke-width="0.55"/>
<circle cx="352.1" cy="459" r="1.4" fill="rgba(0,0,0,0.45)" stroke="rgba(0,0,0,0.7)" stroke-width="0.55"/>
<circle cx="348.6" cy="466.5" r="1.4" fill="rgba(0,0,0,0.45)" stroke="rgba(0,0,0,0.7)" stroke-width="0.55"/>
<circle cx="352.7" cy="466.1" r="1.4" fill="rgba(0,0,0,0.45)" stroke="rgba(0,0,0,0.7)" stroke-width="0.55"/>
<circle cx="355.2" cy="466.1" r="1.4" fill="rgba(0,0,0,0.45)" stroke="rgba(0,0,0,0.7)" stroke-width="0.55"/>
<circle cx="352.1" cy="470.9" r="1.4" fill="rgba(0,0,0,0.45)" stroke="rgba(0,0,0,0.7)" stroke-width="0.55"/>
<circle cx="355" cy="477.5" r="1.4" fill="rgba(0,0,0,0.45)" stroke="rgba(0,0,0,0.7)" stroke-width="0.55"/>
<circle cx="354.7" cy="486.4" r="1.4" fill="rgba(0,0,0,0.45)" stroke="rgba(0,0,0,0.7)" stroke-width="0.55"/>
<circle cx="350.1" cy="489.3" r="1.4" fill="rgba(0,0,0,0.45)" stroke="rgba(0,0,0,0.7)" stroke-width="0.55"/>
<circle cx="381.1" cy="435.8" r="1.4" fill="rgba(0,0,0,0.45)" stroke="rgba(0,0,0,0.7)" stroke-width="0.55"/>
<circle cx="380.1" cy="441.3" r="1.4" fill="rgba(0,0,0,0.8)" stroke="rgba(0,0,0,0.8)" stroke-width="0.5"/>
<circle cx="377.4" cy="450.3" r="1.4" fill="rgba(0,0,0,0.45)" stroke="rgba(0,0,0,0.7)" stroke-width="0.55"/>
<circle cx="380" cy="456.7" r="1.4" fill="rgba(0,0,0,0.45)" stroke="rgba(0,0,0,0.7)" stroke-width="0.55"/>
<circle cx="380.5" cy="458.2" r="1.4" fill="rgba(0,0,0,0.45)" stroke="rgba(0,0,0,0.7)" stroke-width="0.55"/>
<circle cx="381" cy="465.3" r="1.4" fill="rgba(0,0,0,0.45)" stroke="rgba(0,0,0,0.7)" stroke-width="0.55"/>
<circle cx="377.4" cy="470.9" r="1.4" fill="rgba(0,0,0,0.45)" stroke="rgba(0,0,0,0.7)" stroke-width="0.55"/>
<circle cx="378.5" cy="472.9" r="1.4" fill="rgba(0,0,0,0.45)" stroke="rgba(0,0,0,0.7)" stroke-width="0.55"/>
<circle cx="378.5" cy="474.4" r="1.4" fill="rgba(0,0,0,0.45)" stroke="rgba(0,0,0,0.7)" stroke-width="0.55"/>
<circle cx="409.5" cy="379.1" r="1.4" fill="rgba(0,0,0,0.45)" stroke="rgba(0,0,0,0.7)" stroke-width="0.55"/>
<circle cx="406.8" cy="435.4" r="1.4" fill="rgba(0,0,0,0.8)" stroke="rgba(0,0,0,0.8)" stroke-width="0.5"/>
<circle cx="405.4" cy="447.5" r="1.4" fill="rgba(0,0,0,0.45)" stroke="rgba(0,0,0,0.7)" stroke-width="0.55"/>
<circle cx="406" cy="456.6" r="1.4" fill="rgba(0,0,0,0.45)" stroke="rgba(0,0,0,0.7)" stroke-width="0.55"/>
<circle cx="407.4" cy="462.1" r="1.4" fill="rgba(0,0,0,0.45)" stroke="rgba(0,0,0,0.7)" stroke-width="0.55"/>
<circle cx="408.9" cy="464.1" r="1.4" fill="rgba(0,0,0,0.45)" stroke="rgba(0,0,0,0.7)" stroke-width="0.55"/>
<circle cx="406" cy="477.3" r="1.4" fill="rgba(0,0,0,0.8)" stroke="rgba(0,0,0,0.8)" stroke-width="0.5"/>
<circle cx="433.8" cy="385.2" r="1.4" fill="rgba(0,0,0,0.45)" stroke="rgba(0,0,0,0.7)" stroke-width="0.55"/>
<circle cx="432.3" cy="400.4" r="1.4" fill="rgba(0,0,0,0.45)" stroke="rgba(0,0,0,0.7)" stroke-width="0.55"/>
<circle cx="437.4" cy="412.1" r="1.4" fill="rgba(0,0,0,0.45)" stroke="rgba(0,0,0,0.7)" stroke-width="0.55"/>
<circle cx="437.4" cy="426.7" r="1.4" fill="rgba(0,0,0,0.45)" stroke="rgba(0,0,0,0.7)" stroke-width="0.55"/>
<circle cx="432.8" cy="432.3" r="1.4" fill="rgba(0,0,0,0.45)" stroke="rgba(0,0,0,0.7)" stroke-width="0.55"/>
<circle cx="436.4" cy="447.3" r="1.4" fill="rgba(0,0,0,0.45)" stroke="rgba(0,0,0,0.7)" stroke-width="0.55"/>
<circle cx="437.2" cy="453" r="1.4" fill="rgba(0,0,0,0.45)" stroke="rgba(0,0,0,0.7)" stroke-width="0.55"/>
<circle cx="435.2" cy="459.1" r="1.4" fill="rgba(0,0,0,0.45)" stroke="rgba(0,0,0,0.7)" stroke-width="0.55"/>
<circle cx="434.4" cy="462.1" r="1.4" fill="rgba(0,0,0,0.45)" stroke="rgba(0,0,0,0.7)" stroke-width="0.55"/>
<circle cx="434.4" cy="465.1" r="1.4" fill="rgba(0,0,0,0.8)" stroke="rgba(0,0,0,0.8)" stroke-width="0.5"/>
<circle cx="462.2" cy="409.1" r="1.4" fill="rgba(0,0,0,0.8)" stroke="rgba(0,0,0,0.8)" stroke-width="0.5"/>
<circle cx="464.8" cy="453.6" r="1.4" fill="rgba(0,0,0,0.45)" stroke="rgba(0,0,0,0.7)" stroke-width="0.55"/>
<circle cx="463.6" cy="462.3" r="1.4" fill="rgba(0,0,0,0.45)" stroke="rgba(0,0,0,0.7)" stroke-width="0.55"/>
<circle cx="461.6" cy="468.4" r="1.4" fill="rgba(0,0,0,0.45)" stroke="rgba(0,0,0,0.7)" stroke-width="0.55"/>
<circle cx="464.8" cy="474.5" r="1.4" fill="rgba(0,0,0,0.45)" stroke="rgba(0,0,0,0.7)" stroke-width="0.55"/>
<circle cx="462.2" cy="489.1" r="1.4" fill="rgba(0,0,0,0.45)" stroke="rgba(0,0,0,0.7)" stroke-width="0.55"/>
<circle cx="462.8" cy="498.2" r="1.4" fill="rgba(0,0,0,0.45)" stroke="rgba(0,0,0,0.7)" stroke-width="0.55"/>
<circle cx="489.1" cy="459.1" r="1.4" fill="rgba(0,0,0,0.45)" stroke="rgba(0,0,0,0.7)" stroke-width="0.55"/>
<circle cx="490.5" cy="461.7" r="1.4" fill="rgba(0,0,0,0.45)" stroke="rgba(0,0,0,0.7)" stroke-width="0.55"/>
<circle cx="492" cy="464.4" r="1.4" fill="rgba(0,0,0,0.8)" stroke="rgba(0,0,0,0.8)" stroke-width="0.5"/>
<circle cx="487.9" cy="471.3" r="1.4" fill="rgba(0,0,0,0.45)" stroke="rgba(0,0,0,0.7)" stroke-width="0.55"/>
<circle cx="491.2" cy="480.6" r="1.4" fill="rgba(0,0,0,0.45)" stroke="rgba(0,0,0,0.7)" stroke-width="0.55"/>
<circle cx="488.9" cy="497.5" r="1.4" fill="rgba(0,0,0,0.45)" stroke="rgba(0,0,0,0.7)" stroke-width="0.55"/>
<circle cx="489.6" cy="503.6" r="1.4" fill="rgba(0,0,0,0.45)" stroke="rgba(0,0,0,0.7)" stroke-width="0.55"/>
<circle cx="492.3" cy="506.7" r="1.4" fill="rgba(0,0,0,0.45)" stroke="rgba(0,0,0,0.7)" stroke-width="0.55"/>
<circle cx="487.3" cy="512.4" r="1.4" fill="rgba(0,0,0,0.45)" stroke="rgba(0,0,0,0.7)" stroke-width="0.55"/>
<circle cx="488.9" cy="524.5" r="1.4" fill="rgba(0,0,0,0.45)" stroke="rgba(0,0,0,0.7)" stroke-width="0.55"/>
<circle cx="492.7" cy="527.2" r="1.4" fill="rgba(0,0,0,0.45)" stroke="rgba(0,0,0,0.7)" stroke-width="0.55"/>
<circle cx="490.2" cy="530.6" r="1.4" fill="rgba(0,0,0,0.45)" stroke="rgba(0,0,0,0.7)" stroke-width="0.55"/>
<path d="M352.48,343.2V338.8H462.35V343.2" fill="none" stroke="#555555" stroke-width="1"/>
<text x="407.42" y="336.5" font-size="12" text-anchor="middle" fill="#111111">ns</text>
<path d="M379.95,355.6V351.2H462.35V355.6" fill="none" stroke="#555555" stroke-width="1"/>
<text x="421.15" y="348.9" font-size="12" text-anchor="middle" fill="#111111">ns</text>
<path d="M407.42,368.1V363.7H462.35V368.1" fill="none" stroke="#555555" stroke-width="1"/>
<text x="434.88" y="361.4" font-size="12" text-anchor="middle" fill="#111111">ns</text>
<path d="M434.88,384.7V380.3H462.35V384.7" fill="none" stroke="#555555" stroke-width="1"/>
<polygon points="448.62,368.5 449.32,369.73 450.71,370.02 449.76,371.07 449.91,372.48 448.62,371.9 447.32,372.48 447.48,371.07 446.53,370.02 447.91,369.73" fill="#000"/>
<rect x="336" y="327.7" width="170.3" height="228" fill="none" stroke="#959595" stroke-width="1"/>
<line x1="333.8" y1="338.1" x2="336" y2="338.1" stroke="#555555" stroke-width="1"/>
<text x="332.1" y="338.1" font-size="14.35" text-anchor="end" fill="#111111">150</text>
<line x1="333.8" y1="379.55" x2="336" y2="379.55" stroke="#555555" stroke-width="1"/>
<text x="332.1" y="379.55" font-size="14.35" text-anchor="end" fill="#111111">100</text>
<line x1="333.8" y1="421" x2="336" y2="421" stroke="#555555" stroke-width="1"/>
<text x="332.1" y="421" font-size="14.35" text-anchor="end" fill="#111111">50</text>
<line x1="333.8" y1="462.45" x2="336" y2="462.45" stroke="#555555" stroke-width="1"/>
<text x="332.1" y="462.45" font-size="14.35" text-anchor="end" fill="#111111">0</text>
<line x1="333.8" y1="503.9" x2="336" y2="503.9" stroke="#555555" stroke-width="1"/>
<text x="332.1" y="503.9" font-size="14.35" text-anchor="end" fill="#111111">-50</text>
<line x1="333.8" y1="545.35" x2="336" y2="545.35" stroke="#555555" stroke-width="1"/>
<text x="332.1" y="545.35" font-size="14.35" text-anchor="end" fill="#111111">-100</text>
<line x1="352.48" y1="555.7" x2="352.48" y2="557.9" stroke="#555555" stroke-width="1"/>
<text x="352.48" y="569.7" font-size="14.35" text-anchor="middle" fill="#111111">T1</text>
<line x1="379.95" y1="555.7" x2="379.95" y2="557.9" stroke="#555555" stroke-width="1"/>
<text x="379.95" y="569.7" font-size="14.35" text-anchor="middle" fill="#111111">T2</text>
<line x1="407.42" y1="555.7" x2="407.42" y2="557.9" stroke="#555555" stroke-width="1"/>
<text x="407.42" y="569.7" font-size="14.35" text-anchor="middle" fill="#111111">T3</text>
<line x1="434.88" y1="555.7" x2="434.88" y2="557.9" stroke="#555555" stroke-width="1"/>
<text x="434.88" y="569.7" font-size="14.35" text-anchor="middle" fill="#111111">D</text>
<line x1="462.35" y1="555.7" x2="462.35" y2="557.9" stroke="#555555" stroke-width="1"/>
<text x="462.35" y="569.7" font-size="14.35" text-anchor="middle" fill="#111111">1PP</text>
<line x1="489.82" y1="555.7" x2="489.82" y2="557.9" stroke="#555555" stroke-width="1"/>
<text x="489.82" y="569.7" font-size="14.35" text-anchor="middle" fill="#111111">3PP</text>
<text x="421.15" y="588.9" font-size="14.35" text-anchor="middle" fill="#111111">Timepoint</text>
<text transform="translate(300,441.7) rotate(-90)" font-size="14.35" text-anchor="middle" fill="#111111">Percentage of response</text>
<text x="336.6" y="320.3" font-size="14.45" font-weight="bold" fill="#000">A28.3|M13.17.Interferon</text>
</svg>
</body></html>
